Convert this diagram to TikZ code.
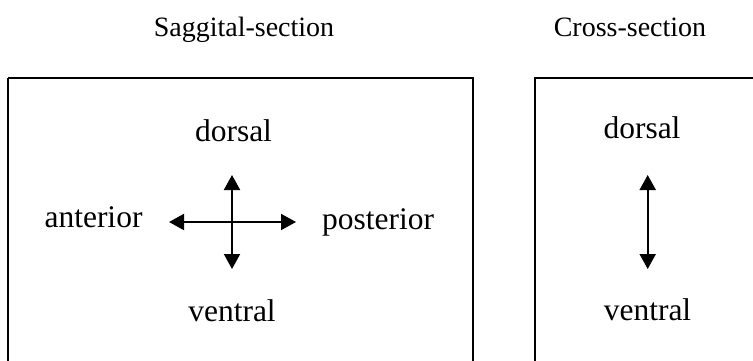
\documentclass[tikz,border=0pt]{standalone}
\usepackage{fontspec}
\setmainfont{Liberation Serif}
\usetikzlibrary{arrows.meta}
\begin{document}
\begin{tikzpicture}[x=1pt,y=-1pt,
  title/.style={anchor=base,inner sep=0pt,font=\fontsize{28}{30}\selectfont},
  label/.style={anchor=base,inner sep=0pt,font=\fontsize{31.5}{34}\selectfont},
  frame/.style={draw,line width=2pt},
  dirarrow/.style={line width=2pt,{Triangle[length=15pt,width=16pt]}-{Triangle[length=15pt,width=16pt]}}]
\useasboundingbox (0,0) rectangle (753,360);
\clip (0,0) rectangle (753,360);
\fill[white] (0,0) rectangle (753,360);
% titles
\node[title] (t1) at (244,36.5) {Saggital-section};
\node[title] (t2) at (630,36.5) {Cross-section};
% frames (cut off by the picture's edge)
\draw[frame] (8,78) -- (473,78) -- (473,380);
\draw[frame] (8,78) -- (8,380);
\draw[frame] (535,380) -- (535,78) -- (780,78);
% sagittal labels
\node[label] (d1) at (233.5,141.5) {dorsal};
\node[label] (v1) at (232,321.5) {ventral};
\node[label] (a1) at (93.5,227.5) {anterior};
\node[label] (p1) at (378,229.5) {posterior};
\coordinate (up1) at (232,175);
\coordinate (dn1) at (232,269);
\coordinate (lf1) at (169,222);
\coordinate (rt1) at (296,222);
\draw[dirarrow] (lf1) -- (rt1);
\draw[dirarrow] (up1) -- (dn1);
% cross-section labels
\node[label] (d2) at (642,138) {dorsal};
\node[label] (v2) at (647.5,320) {ventral};
\coordinate (up2) at (647.7,175);
\coordinate (dn2) at (647.7,269);
\draw[dirarrow] (up2) -- (dn2);
\end{tikzpicture}
\end{document}
